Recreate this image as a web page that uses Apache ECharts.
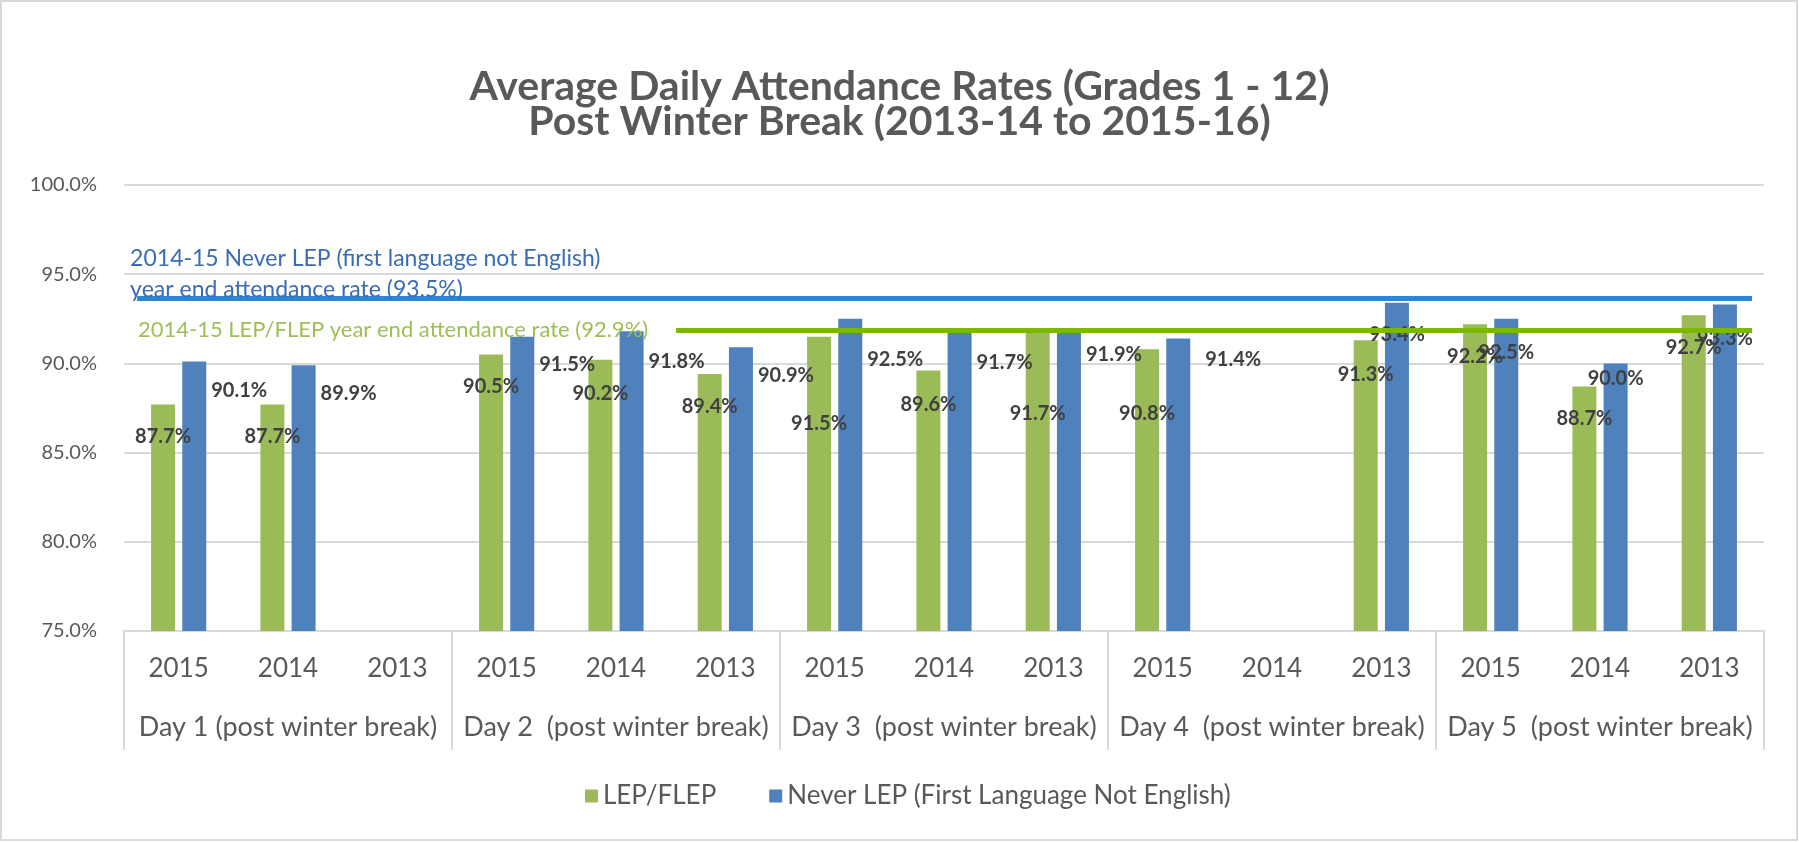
<!DOCTYPE html>
<html>
<head>
<meta charset="utf-8">
<script src="https://cdn.jsdelivr.net/npm/echarts@6/dist/echarts.min.js"></script>
<style>
  html, body { margin: 0; padding: 0; background: #fff; }
  #chart { width: 1799px; height: 842px; }
</style>
</head>
<body>
<div id="chart"></div>
<script>
// ---------- data ----------
const yearLabels = ['2015','2014','2013','2015','2014','2013','2015','2014','2013','2015','2014','2013','2015','2014','2013'];
const dayLabels = [
  'Day 1 (post winter break)',
  'Day 2  (post winter break)',
  'Day 3  (post winter break)',
  'Day 4  (post winter break)',
  'Day 5  (post winter break)'
];
const seriesNames = ['LEP/FLEP', 'Never LEP (First Language Not English)'];
const lepValues      = [87.7, 87.7, null, 90.5, 90.2, 89.4, 91.5, 89.6, 91.7, 90.8, null, 91.3, 92.2, 88.7, 92.7];
const neverLepValues = [90.1, 89.9, null, 91.5, 91.8, 90.9, 92.5, 91.7, 91.9, 91.4, null, 93.4, 92.5, 90.0, 93.3];
const yMin = 75, yMax = 100, yStep = 5;
// reference lines (level as drawn in the picture) and their captions
const refLineLevels = [93.65, 91.85];
const refLineCaptions = [
  '2014-15 Never LEP (first language not English)\nyear end attendance rate (93.5%)',
  '2014-15 LEP/FLEP year end attendance rate (92.9%)'
];
// reference line extents, in category units (0 = left edge of plot, 15 = right edge)
const refLineSpans = [[0.12, 14.89], [5.05, 14.89]];

// ---------- label placement (style, not data) ----------
const lepLabelDrop   = [32, 32, 0, 32, 34, 32, 87, 34, 80, 64, 0, 34, 32, 32, 32];
const neverLabelDrop = [29, 28, 0, 28, 30, 28, 41, 29, 25, 21, 0, 32, 34, 15, 34];
const neverLabelGap  = [5, 5, 0, 5, 5, 5, 5, 5, 5, 15, 0, 0, 0, 0, 0]; // >0: label right of bar

const FONT = 'Lato, "Open Sans", sans-serif';
const GREEN = '#9BBB59', BLUE = '#4F81BD';
const TEXT = '#595959';

function labelFor(drop, gap) {
  if (gap > 0) {
    return { position: ['100%', drop], offset: [gap, 0], align: 'left', verticalAlign: 'middle' };
  }
  return { position: ['50%', drop], align: 'center', verticalAlign: 'middle' };
}
const lepData = lepValues.map((v, i) => v == null ? null : { value: v, label: labelFor(lepLabelDrop[i], 0) });
const neverData = neverLepValues.map((v, i) => v == null ? null : { value: v, label: labelFor(neverLabelDrop[i], neverLabelGap[i]) });

const chart = echarts.init(document.getElementById('chart'), null, { renderer: 'canvas' });

const dataLabel = {
  show: true,
  formatter: p => p.value.toFixed(1) + '%',
  fontFamily: FONT,
  fontWeight: 'bold',
  fontSize: 20,
  color: '#404040'
};

chart.setOption({
  backgroundColor: '#ffffff',
  animation: false,
  title: {
    text: 'Average Daily Attendance Rates (Grades 1 - 12)\nPost Winter Break (2013-14 to 2015-16)',
    left: 'center',
    top: 64,
    textStyle: { fontFamily: FONT, fontWeight: 'bold', fontSize: 41, lineHeight: 35, color: TEXT }
  },
  graphic: [{
    type: 'rect', silent: true,
    shape: { x: 1, y: 1, width: 1796, height: 839 },
    style: { fill: 'none', stroke: '#D9D9D9', lineWidth: 2 }
  }],
  legend: {
    data: seriesNames,
    left: 580,
    top: 778,
    itemWidth: 13,
    itemHeight: 13,
    itemGap: 53,
    icon: 'rect',
    textStyle: { fontFamily: FONT, fontSize: 26, color: TEXT }
  },
  grid: { left: 124, right: 35, top: 185, bottom: 211, containLabel: false },
  xAxis: [
    {
      type: 'category',
      data: yearLabels,
      position: 'bottom',
      axisLine: { show: true, lineStyle: { color: '#D9D9D9', width: 2 } },
      axisTick: { show: false },
      axisLabel: { interval: 0, margin: 25, fontFamily: FONT, fontSize: 26, color: TEXT },
      splitLine: { show: false }
    },
    {
      type: 'category',
      data: dayLabels,
      position: 'bottom',
      axisLine: { show: false },
      axisTick: { show: true, length: 119, lineStyle: { color: '#D9D9D9', width: 2 } },
      axisLabel: { interval: 0, margin: 83, fontFamily: FONT, fontSize: 27, color: TEXT },
      splitLine: { show: false }
    },
    {
      type: 'value',
      min: 0, max: 15,
      show: false
    }
  ],
  yAxis: {
    type: 'value',
    min: yMin, max: yMax, interval: yStep,
    axisLine: { show: false },
    axisTick: { show: false },
    axisLabel: { margin: 27, fontFamily: FONT, fontSize: 20, color: TEXT, formatter: v => v.toFixed(1) + '%' },
    splitLine: { lineStyle: { color: '#D9D9D9', width: 2 } }
  },
  series: [
    {
      name: seriesNames[0], type: 'bar', xAxisIndex: 0,
      data: lepData, barWidth: 24, barGap: '30%',
      itemStyle: { color: GREEN },
      label: dataLabel
    },
    {
      name: seriesNames[1], type: 'bar', xAxisIndex: 0,
      data: neverData, barWidth: 24, barGap: '30%',
      itemStyle: { color: BLUE },
      label: dataLabel
    },
    {
      name: 'ref', type: 'line', xAxisIndex: 2, data: [], silent: true,
      markLine: {
        silent: true, symbol: ['none', 'none'], z: 10,
        data: [
          [
            { coord: [refLineSpans[0][0], refLineLevels[0]],
              lineStyle: { color: '#2A87D8', width: 5, type: 'solid' },
              label: { show: true, position: 'insideStartTop', distance: [-7, -7], formatter: refLineCaptions[0],
                       fontFamily: FONT, fontSize: 23, lineHeight: 31, color: '#3A6DB2', align: 'left' } },
            { coord: [refLineSpans[0][1], refLineLevels[0]] }
          ],
          [
            { coord: [refLineSpans[1][0], refLineLevels[1]],
              lineStyle: { color: '#7CB800', width: 5, type: 'solid' },
              label: { show: true, position: 'start', distance: 28, formatter: refLineCaptions[1],
                       padding: [0, 0, 10, 0],
                       fontFamily: FONT, fontSize: 22, color: '#9DBF55' } },
            { coord: [refLineSpans[1][1], refLineLevels[1]] }
          ]
        ]
      }
    }
  ]
});
</script>
</body>
</html>
